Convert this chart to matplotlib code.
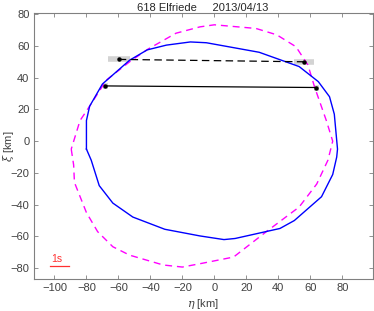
import matplotlib
matplotlib.use("Agg")
import matplotlib.pyplot as plt
import numpy as np

plt.rcParams['font.family'] = ['Liberation Sans', 'DejaVu Sans']
plt.rcParams['mathtext.fontset'] = 'dejavuserif'

title = "618 Elfriede     2013/04/13"

blue_eta = [-80, -80, -78, -70, -53, -42, -30, -15, -5, 28, 53, 65, 72, 75, 77, 76.5, 74, 67, 50, 41, 13, 6, -9, -31, -51, -63.5, -72, -77, -80]
blue_xi = [-5, 13, 22, 36, 51, 57.5, 60.5, 62.5, 62, 56, 47, 37.5, 28, 17, -5, -10, -21, -35, -50, -55, -61.3, -62, -59.7, -55.5, -47.8, -39, -28, -12, -5]

mag_eta = [-89.5, -88, -87.5, -80, -73, -63.5, -53, -32, -20, -8, 12, 32.5, 53, 64, 71, 74, 70, 62.7, 58.5, 51, 39, 26, 0, -9, -24, -41.5, -53, -67.5, -79, -84, -89.5]
mag_xi = [-5, -15, -26, -45, -57, -66.5, -71.8, -78, -79.3, -77, -73, -57, -41.5, -27, -12, 0, 13, 34, 48, 59.5, 67, 71, 73.3, 72, 68, 58, 50, 38.5, 20.5, 13, -5]

chord_eta1 = [-59.8, -68.1]
chord_xi1 = [51.5, 34.8]
chord_eta2 = [56.0, 63.8]
chord_xi2 = [50.0, 33.8]
chord_err1 = [6.8, 1.5]
chord_err2 = [6.0, 1.5]
chord_styles = ["--", "-"]

scale_eta = [-102.7, -91.2]
scale_xi = [-78.7, -78.7]

fig = plt.figure(figsize=(3.74, 3.11), dpi=100)
ax = fig.add_axes([0.090, 0.102, 0.9065, 0.855])

for e1, x1, e2, x2, r1, r2, ls in zip(chord_eta1, chord_xi1, chord_eta2, chord_xi2, chord_err1, chord_err2, chord_styles):
    ax.plot([e1 - r1, e1 + r1], [x1, x1], color="#d3d3d3", lw=4, solid_capstyle="butt", zorder=1)
    ax.plot([e2 - r2, e2 + r2], [x2, x2], color="#d3d3d3", lw=4, solid_capstyle="butt", zorder=1)
    if ls == "--":
        ax.plot([e1, e2], [x1, x2], color="black", lw=0.9, dashes=(6, 3.5), zorder=3)
    else:
        ax.plot([e1, e2], [x1, x2], color="black", lw=0.9, zorder=3)
    ax.plot([e1, e2], [x1, x2], "o", color="black", ms=2.2, lw=0, zorder=4)

ax.plot(mag_eta, mag_xi, color="#ff00ff", lw=1.0, dashes=(5, 3.5), zorder=2)
ax.plot(blue_eta, blue_xi, color="#0000ff", lw=1.0, zorder=2)

ax.plot(scale_eta, scale_xi, color="#ff3030", lw=0.9)
ax.text(-102.3, -77.6, "1s", color="#ff3030", fontsize=7.5, ha="left", va="bottom")

ax.set_xlim(-113, 99)
ax.set_ylim(-87, 80.5)
ax.set_xticks(np.arange(-100, 81, 20))
ax.set_yticks(np.arange(-80, 81, 20))
ax.tick_params(direction="in", top=True, right=True, length=3, width=0.6,
               labelsize=8, labelcolor="#404040", color="#808080", pad=3)
for s in ax.spines.values():
    s.set_color("#808080")
    s.set_linewidth(0.8)
ax.set_xlabel(r"$\eta$ [km]", fontsize=8, color="#404040")
ax.xaxis.set_label_coords(0.5, -0.068)
ax.set_ylabel(r"$\xi$ [km]", fontsize=8, color="#404040")
ax.yaxis.set_label_coords(-0.052, 0.5)
ax.set_title(title, fontsize=8, color="#262626", pad=2)

fig.savefig("out.png", dpi=100)
